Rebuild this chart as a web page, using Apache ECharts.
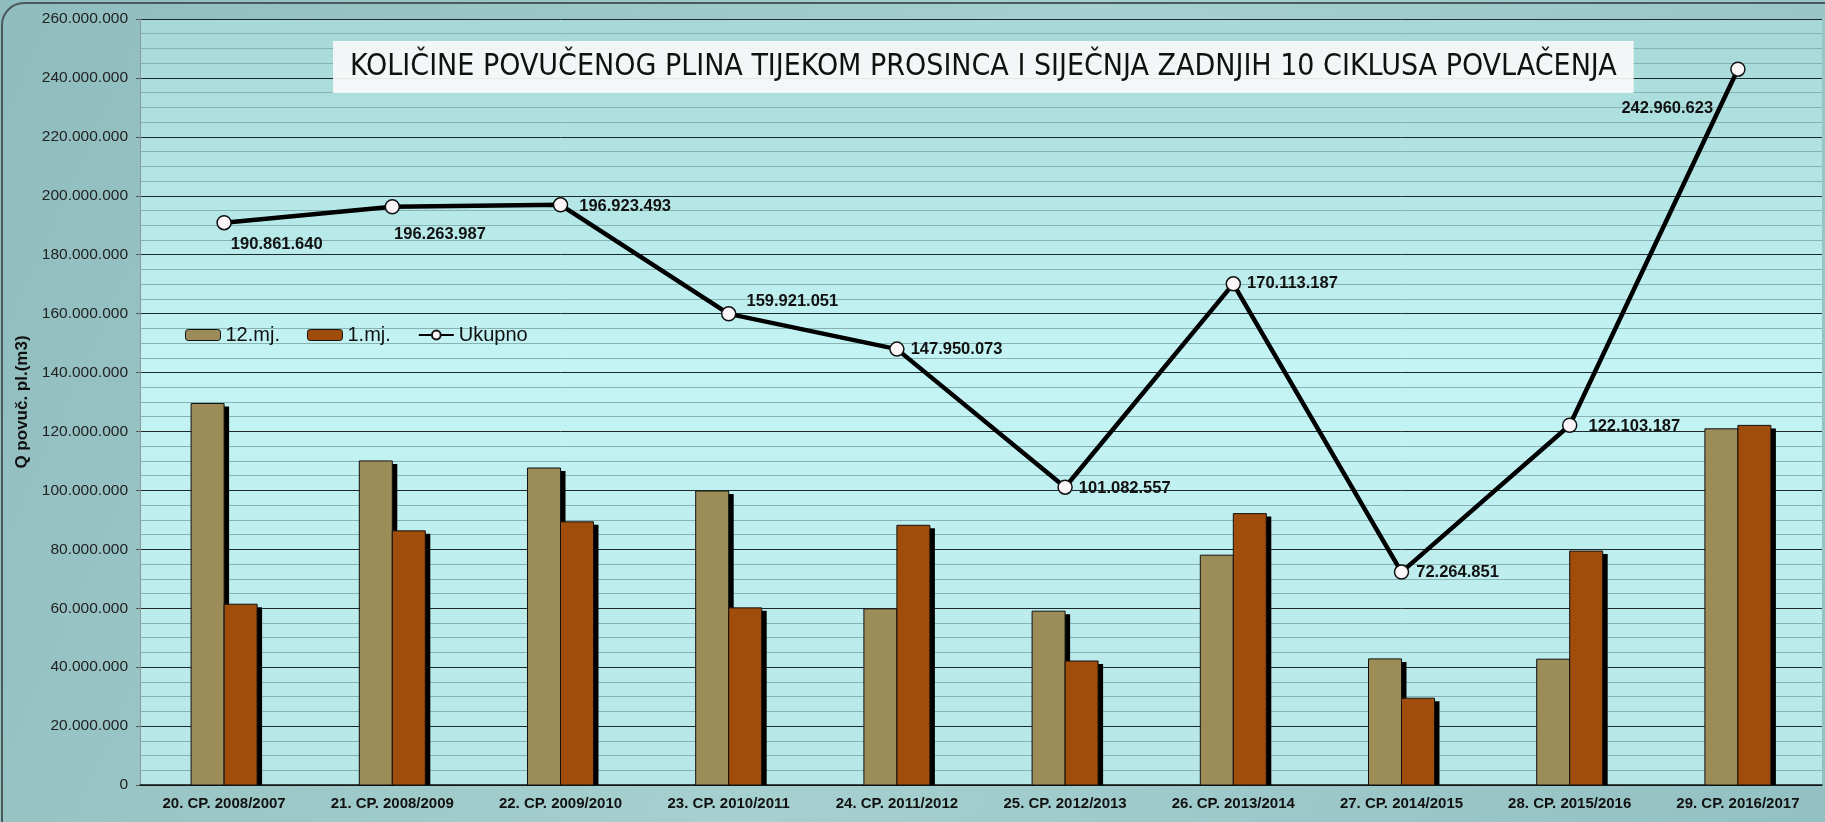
<!DOCTYPE html>
<html>
<head>
<meta charset="utf-8">
<script src="https://cdn.jsdelivr.net/npm/echarts@6/dist/echarts.min.js"></script>
<style>
  html, body { margin: 0; padding: 0; }
  #main { width: 1825px; height: 822px; }
</style>
</head>
<body>
<div id="main"></div>
<script>
var categories = ['20. CP. 2008/2007', '21. CP. 2008/2009', '22. CP. 2009/2010', '23. CP. 2010/2011', '24. CP. 2011/2012',
  '25. CP. 2012/2013', '26. CP. 2013/2014', '27. CP. 2014/2015', '28. CP. 2015/2016', '29. CP. 2016/2017'];

var dec = [129500000, 110000000, 107600000, 99800000, 59800000, 59000000, 78000000, 42800000, 42700000, 120900000];
var jan = [61361640, 86263987, 89323493, 60121051, 88150073, 42082557, 92113187, 29464851, 79403187, 122060623];
var total = [190861640, 196263987, 196923493, 159921051, 147950073, 101082557, 170113187, 72264851, 122103187, 242960623];

// label offsets for the total line (dx, dy)
var labelPos = ['right', 'right', 'right', 'right', 'right', 'right', 'right', 'right', 'right', 'left'];
var labelOff = [[-6, 22], [-11, 28], [6, 2], [5, -12], [1, 0], [1, 1], [1, 0], [2, 0], [6, 1], [-12, 39]];

function fmt(v) {
  return String(v).replace(/\B(?=(\d{3})+(?!\d))/g, '.');
}

var font = "'Liberation Sans', Arial, sans-serif";
var barW = 33;

var chartDom = document.getElementById('main');
var myChart = echarts.init(chartDom);
var option;

var lineData = total.map(function (v, i) {
  return {
    value: v,
    label: { position: labelPos[i], offset: labelOff[i] }
  };
});

// bar with hard black drop shadow (shadow first, then the bar with outline)
function barRenderer(side, color) {
  return function (params, api) {
    var base = api.coord([api.value(0), 0]);
    var top = api.coord([api.value(0), api.value(1)]);
    var left = side === 0 ? base[0] - barW : base[0];
    var h = base[1] - top[1];
    return {
      type: 'group',
      children: [
        {
          type: 'rect',
          shape: { x: left + 5, y: top[1] + 3, width: barW, height: Math.max(h - 3, 0) },
          style: { fill: '#000' }
        },
        {
          type: 'rect',
          shape: { x: left, y: top[1], width: barW, height: h },
          style: { fill: color, stroke: '#111', lineWidth: 1 }
        }
      ]
    };
  };
}

option = {
  animation: false,
  backgroundColor: new echarts.graphic.LinearGradient(0, 0, 1, 1, [
    { offset: 0, color: '#8fbcbd' },
    { offset: 0.5, color: '#a6d0d0' },
    { offset: 1, color: '#93c0c2' }
  ]),
  title: {
    text: 'KOLIČINE POVUČENOG PLINA TIJEKOM PROSINCA I SIJEČNJA ZADNJIH 10 CIKLUSA POVLAČENJA',
    left: 333,
    top: 41,
    padding: [11, 17, 11, 17],
    backgroundColor: 'rgba(248,248,248,0.92)',
    textStyle: {
      fontFamily: "'DejaVu Sans Condensed', sans-serif",
      fontSize: 30,
      fontWeight: 'normal',
      color: '#111'
    }
  },
  legend: {
    left: 180,
    top: 320,
    itemWidth: 35,
    itemHeight: 11,
    itemGap: 27,
    textStyle: { fontFamily: font, fontSize: 20, color: '#111' },
    data: [
      { name: '12.mj.', itemStyle: { borderColor: '#111', borderWidth: 1 } },
      { name: '1.mj.', itemStyle: { borderColor: '#111', borderWidth: 1 } },
      'Ukupno'
    ]
  },
  graphic: [{
    type: 'rect',
    silent: true,
    shape: { x: 2, y: 3, width: 1860, height: 860, r: 22 },
    style: { fill: 'none', stroke: '#4a5a5a', lineWidth: 2 }
  }],
  grid: {
    left: 140,
    right: 3,
    top: 19,
    bottom: 37,
    show: true,
    borderWidth: 0,
    backgroundColor: new echarts.graphic.LinearGradient(0, 0, 0, 1, [
      { offset: 0, color: '#a6d8d8' },
      { offset: 0.45, color: '#c4f4f4' },
      { offset: 1, color: '#b6e6e6' }
    ])
  },
  xAxis: {
    type: 'category',
    data: categories,
    axisLine: { lineStyle: { color: '#111', width: 1.5 } },
    axisTick: { show: false },
    axisLabel: { fontFamily: font, fontSize: 15, fontWeight: 'bold', color: '#111', margin: 11 }
  },
  yAxis: {
    type: 'value',
    min: 0,
    max: 260000000,
    interval: 20000000,
    name: 'Q povuč. pl.(m3)',
    nameLocation: 'middle',
    nameGap: 106,
    nameTextStyle: { fontFamily: font, fontSize: 17, fontWeight: 'bold', color: '#111' },
    axisLine: { show: true, lineStyle: { color: '#8a9a9a' } },
    axisTick: { show: true, length: 4, lineStyle: { color: '#555' } },
    axisLabel: {
      fontFamily: font, fontSize: 15.5, color: '#222', margin: 12,
      formatter: function (v) { return fmt(v); }
    },
    splitLine: { lineStyle: { color: '#1e2a2a', width: 1 } },
    minorTick: { show: false, splitNumber: 4 },
    minorSplitLine: { show: true, lineStyle: { color: '#86b2b4', width: 1 } }
  },
  series: [
    {
      name: '12.mj.',
      type: 'custom',
      renderItem: barRenderer(0, '#9b8c58'),
      itemStyle: { color: '#9b8c58' },
      encode: { x: 0, y: 1 },
      data: dec.map(function (v, i) { return [i, v]; })
    },
    {
      name: '1.mj.',
      type: 'custom',
      renderItem: barRenderer(1, '#a04c0a'),
      itemStyle: { color: '#a04c0a' },
      encode: { x: 0, y: 1 },
      data: jan.map(function (v, i) { return [i, v]; })
    },
    {
      name: 'Ukupno',
      type: 'line',
      data: lineData,
      symbol: 'circle',
      symbolSize: 14,
      z: 5,
      lineStyle: { color: '#000', width: 4.5 },
      itemStyle: { color: '#fdf6f8', borderColor: '#111', borderWidth: 1.5 },
      label: {
        show: true,
        fontFamily: font,
        fontSize: 16.5,
        fontWeight: 'bold',
        color: '#111',
        formatter: function (p) { return fmt(p.value); }
      }
    }
  ]
};

option && myChart.setOption(option);
</script>
</body>
</html>
